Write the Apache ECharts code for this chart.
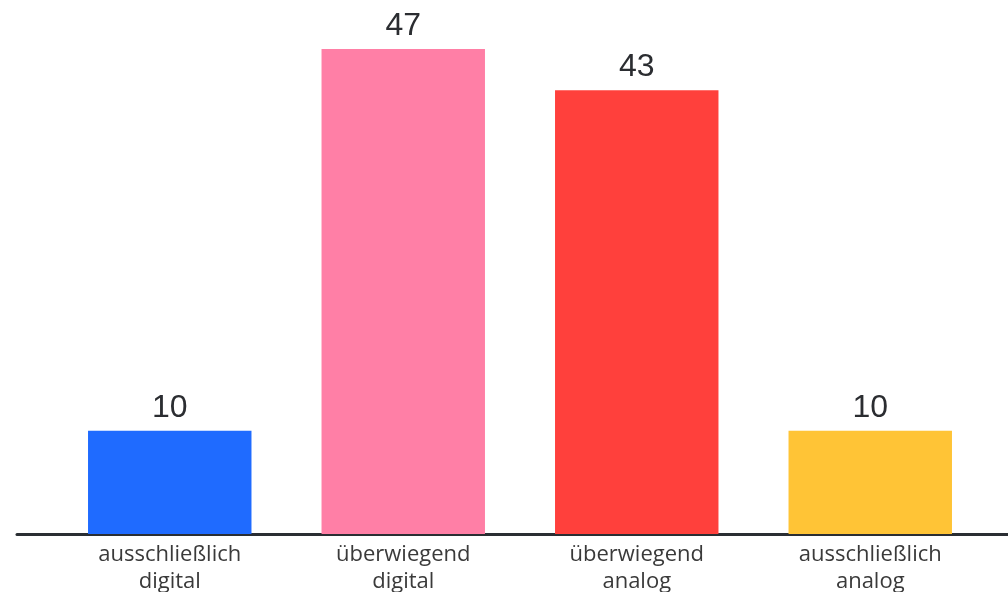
<!DOCTYPE html>
<html>
<head>
<meta charset="utf-8">
<script src="https://cdn.jsdelivr.net/npm/echarts@6/dist/echarts.min.js"></script>
<style>html,body{margin:0;padding:0;background:#fff}#c{width:1008px;height:592px}</style>
</head>
<body>
<div id="c"></div>
<script>
const categories = ['ausschließlich\ndigital', 'überwiegend\ndigital', 'überwiegend\nanalog', 'ausschließlich\nanalog'];
const values = [10, 47, 43, 10];
const barColors = ['#1f6bff', '#ff7fa6', '#ff403c', '#ffc436'];

const chart = echarts.init(document.getElementById('c'), null, {renderer: 'canvas'});
chart.setOption({
  animation: false,
  backgroundColor: '#ffffff',
  grid: [
    {left: 53, right: 21, top: 18, bottom: 58, outerBoundsMode: 'none', containLabel: false},
    {left: 17, right: 0, top: 18, bottom: 58, outerBoundsMode: 'none', containLabel: false}
  ],
  xAxis: [
    {
      type: 'category', data: categories, gridIndex: 0,
      axisLine: {show: false}, axisTick: {show: false},
      axisLabel: {color: '#3a3a3a', fontSize: 22, lineHeight: 27, margin: 7, fontFamily: '"Open Sans", "Noto Sans", sans-serif', interval: 0}
    },
    {
      type: 'category', data: [''], gridIndex: 1,
      axisLine: {show: true, lineStyle: {color: '#2a2e33', width: 3}},
      axisTick: {show: false}, axisLabel: {show: false}
    }
  ],
  yAxis: [
    {type: 'value', min: 0, max: 50, gridIndex: 0, show: false},
    {type: 'value', min: 0, max: 50, gridIndex: 1, show: false}
  ],
  series: [{
    type: 'bar',
    xAxisIndex: 0, yAxisIndex: 0,
    barWidth: '70%',
    data: values.map((v, i) => ({value: v, itemStyle: {color: barColors[i]}})),
    label: {show: true, position: 'top', distance: 7, color: '#2b2d31', fontSize: 32, fontFamily: '"Liberation Sans", Arial, sans-serif'}
  }]
});
</script>
</body>
</html>
